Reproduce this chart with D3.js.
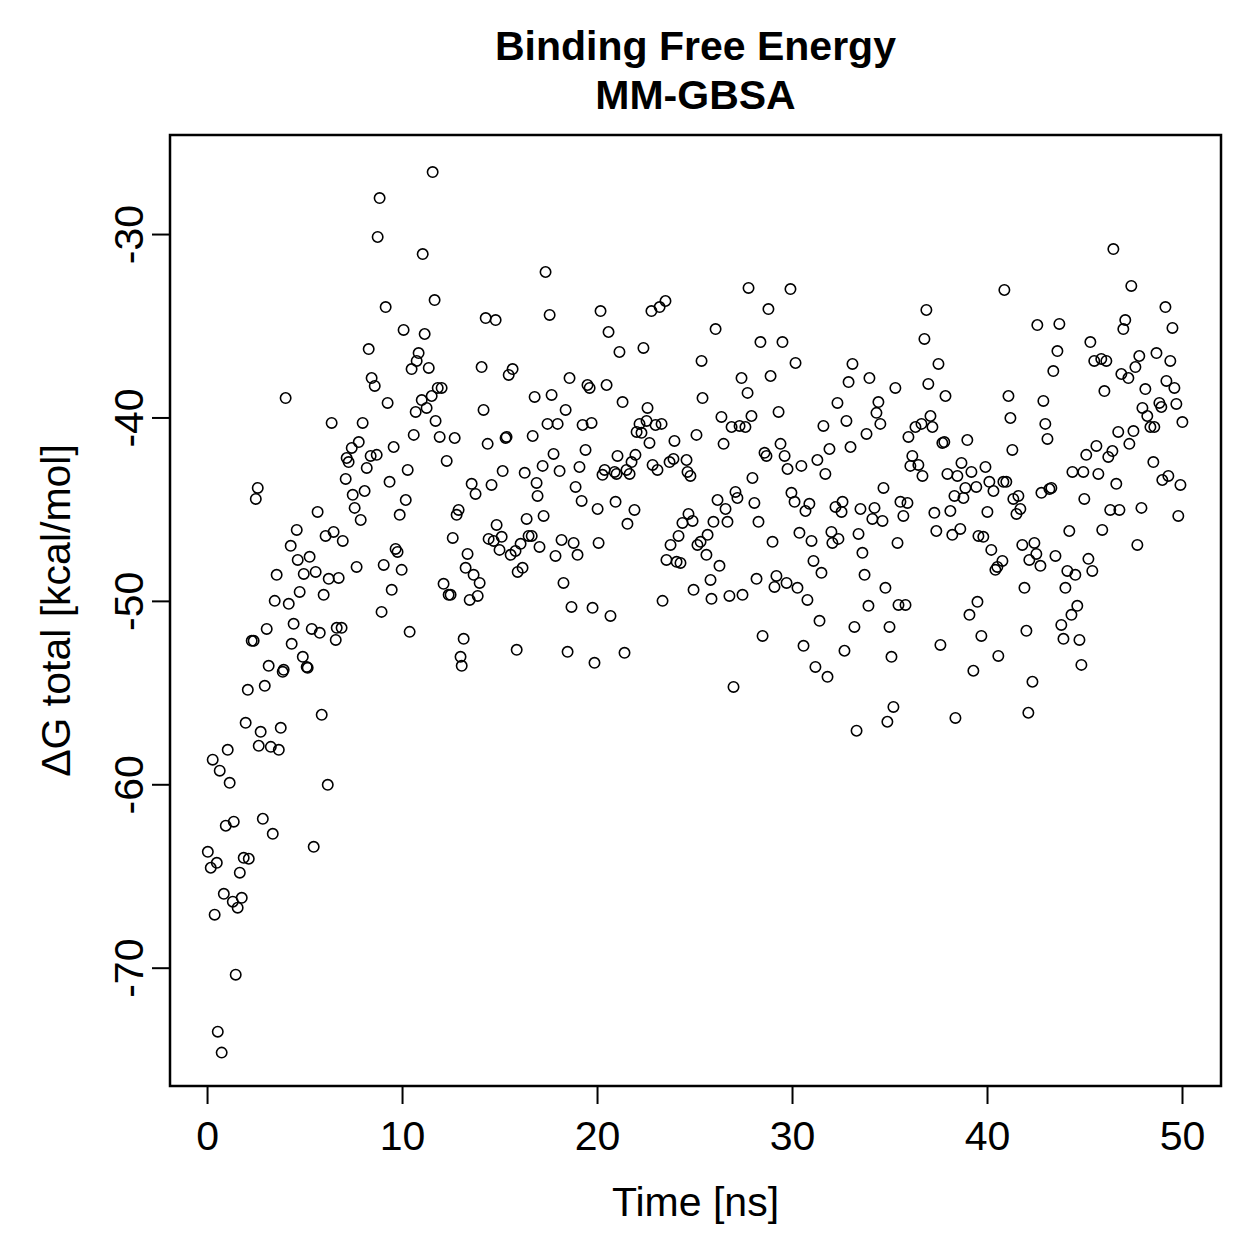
<!DOCTYPE html>
<html>
<head>
<meta charset="utf-8">
<script src="https://cdn.jsdelivr.net/npm/d3@7"></script>
<style>
  body { margin: 0; background: #fff; }
  svg text { font-family: "Liberation Sans", Arial, Helvetica, sans-serif; fill: #000; }
</style>
</head>
<body>
<svg class="scatter"></svg>
<script>
// time of each snapshot [ns]
timeNs = [
  0.04, 0.19, 0.29, 0.39, 0.50, 0.55, 0.65, 0.75, 0.86, 0.96,
  1.06, 1.16, 1.32, 1.37, 1.47, 1.57, 1.68, 1.78, 1.88, 1.98,
  2.09, 2.14, 2.29, 2.39, 2.50, 2.60, 2.65, 2.75, 2.86, 2.96,
  3.06, 3.16, 3.27, 3.37, 3.47, 3.57, 3.68, 3.78, 3.88, 3.93,
  4.03, 4.19, 4.29, 4.34, 4.44, 4.60, 4.65, 4.75, 4.91, 4.96,
  5.11, 5.16, 5.26, 5.37, 5.47, 5.57, 5.67, 5.78, 5.88, 5.98,
  6.08, 6.19, 6.24, 6.39, 6.49, 6.60, 6.65, 6.75, 6.90, 6.96,
  7.11, 7.16, 7.26, 7.42, 7.47, 7.57, 7.67, 7.78, 7.88, 7.98,
  8.08, 8.19, 8.29, 8.39, 8.44, 8.60, 8.70, 8.75, 8.85, 8.95, 9.06,
  9.16, 9.26, 9.36, 9.47, 9.57, 9.67, 9.77, 9.88, 9.98, 10.08,
  10.19, 10.29, 10.39, 10.49, 10.60, 10.70, 10.75, 10.85, 11.01, 11.06,
  11.16, 11.26, 11.37, 11.52, 11.57, 11.67, 11.72, 11.83, 11.93, 12.03,
  12.13, 12.29, 12.39, 12.49, 12.60, 12.70, 12.80, 12.90, 13.00, 13.06,
  13.16, 13.26, 13.36, 13.47, 13.57, 13.67, 13.77, 13.88, 13.98, 14.08,
  14.18, 14.29, 14.39, 14.44, 14.59, 14.70, 14.80, 14.85, 15.00, 15.11,
  15.16, 15.31, 15.36, 15.47, 15.57, 15.67, 15.82, 15.88, 15.93, 16.08,
  16.18, 16.29, 16.39, 16.49, 16.65, 16.70, 16.80, 16.90, 16.95, 17.05,
  17.21, 17.26, 17.36, 17.46, 17.57, 17.67, 17.77, 17.87, 17.98, 18.08,
  18.18, 18.28, 18.39, 18.49, 18.59, 18.69, 18.80, 18.90, 19.00, 19.10,
  19.21, 19.26, 19.41, 19.51, 19.62, 19.72, 19.77, 19.87, 20.03, 20.08,
  20.18, 20.28, 20.39, 20.49, 20.59, 20.69, 20.90, 20.95, 21.00, 21.05,
  21.15, 21.31, 21.41, 21.51, 21.56, 21.67, 21.77, 21.92, 21.97, 22.03,
  22.18, 22.28, 22.38, 22.54, 22.59, 22.69, 22.79, 22.85, 23.00, 23.10,
  23.21, 23.31, 23.36, 23.51, 23.56, 23.72, 23.77, 23.92, 23.97, 24.08,
  24.18, 24.28, 24.38, 24.59, 24.64, 24.69, 24.79, 24.90, 24.95, 25.10,
  25.15, 25.31, 25.36, 25.41, 25.61, 25.67, 25.82, 25.87, 25.97, 26.08,
  26.18, 26.28, 26.38, 26.49, 26.59, 26.69, 26.79, 26.90, 27.00, 27.10,
  27.20, 27.31, 27.41, 27.46, 27.61, 27.72, 27.77, 27.92, 27.97, 28.07,
  28.18, 28.28, 28.38, 28.49, 28.59, 28.69, 28.79, 28.90, 29.00, 29.10,
  29.20, 29.31, 29.41, 29.51, 29.62, 29.72, 29.77, 29.92, 29.97, 30.13,
  30.18, 30.28, 30.38, 30.48, 30.59, 30.69, 30.79, 30.89, 31.00, 31.10,
  31.20, 31.30, 31.41, 31.51, 31.61, 31.71, 31.82, 31.92, 32.02, 32.07,
  32.23, 32.33, 32.38, 32.54, 32.59, 32.69, 32.79, 32.90, 33.00, 33.10,
  33.20, 33.31, 33.41, 33.51, 33.61, 33.72, 33.82, 33.92, 33.97, 34.12,
  34.23, 34.33, 34.43, 34.53, 34.64, 34.69, 34.79, 34.89, 35.00, 35.10,
  35.20, 35.30, 35.41, 35.46, 35.56, 35.71, 35.82, 35.92, 35.97, 36.07,
  36.17, 36.33, 36.48, 36.64, 36.69, 36.79, 36.89, 36.99, 37.10, 37.20,
  37.30, 37.40, 37.51, 37.61, 37.71, 37.81, 37.87, 37.97, 38.12, 38.22,
  38.33, 38.38, 38.48, 38.63, 38.69, 38.79, 38.89, 38.99, 39.10, 39.20,
  39.30, 39.45, 39.51, 39.56, 39.71, 39.81, 39.92, 40.02, 40.12, 40.22,
  40.33, 40.43, 40.53, 40.58, 40.79, 40.84, 40.89, 40.99, 41.10, 41.20,
  41.30, 41.35, 41.51, 41.61, 41.71, 41.81, 41.92, 42.02, 42.12, 42.17,
  42.33, 42.43, 42.53, 42.58, 42.74, 42.79, 42.89, 42.99, 43.10, 43.20,
  43.30, 43.40, 43.51, 43.61, 43.71, 43.81, 43.92, 44.02, 44.12, 44.22,
  44.33, 44.38, 44.53, 44.63, 44.74, 44.84, 44.94, 44.99, 45.09, 45.20,
  45.30, 45.40, 45.50, 45.61, 45.71, 45.86, 45.91, 46.02, 46.12, 46.22,
  46.32, 46.43, 46.48, 46.63, 46.73, 46.79, 46.89, 46.99, 47.09, 47.25,
  47.30, 47.40, 47.51, 47.61, 47.71, 47.81, 47.92, 47.97, 48.12, 48.22,
  48.38, 48.53, 48.58, 48.69, 48.84, 48.94, 48.99, 49.15, 49.20, 49.30,
  49.40, 49.51, 49.61, 49.71, 49.81, 49.92, 50.02
];

// delta G total [kcal/mol], same order as timeNs
deltaG = [
  -63.68, -64.55, -58.66, -67.11, -64.28, -73.49, -59.26, -74.63, -65.97, -62.26,
  -58.12, -59.92, -66.40, -62.04, -70.38, -66.73, -64.82, -66.19, -64.01, -56.65,
  -54.85, -64.06, -52.18, -52.18, -44.44, -43.84, -57.90, -57.14, -61.88, -54.63,
  -51.53, -53.54, -57.96, -62.70, -50.00, -48.58, -58.12, -56.92, -53.87, -53.76,
  -38.94, -50.16, -47.00, -52.34, -51.25, -46.13, -47.77, -49.51, -53.05, -48.53,
  -53.60, -53.65, -47.60, -51.53, -63.41, -48.42, -45.15, -51.74, -56.21, -49.67,
  -46.46, -60.03, -48.80, -40.30, -46.24, -52.13, -51.47, -48.75, -51.47, -46.73,
  -43.35, -42.21, -42.43, -41.66, -44.22, -44.93, -48.15, -41.34, -45.59, -40.30,
  -44.01, -42.75, -36.27, -42.10, -37.85, -38.28, -42.04, -30.16, -28.04, -50.60, -48.04,
  -33.98, -39.21, -43.51, -49.40, -41.61, -47.17, -47.33, -45.31, -48.31, -35.23,
  -44.50, -42.86, -51.69, -37.36, -40.95, -39.70, -36.92, -36.49, -39.05, -31.09,
  -35.45, -39.48, -37.30, -38.83, -26.62, -33.60, -40.19, -38.39, -41.06, -38.39,
  -49.07, -42.37, -49.67, -49.67, -46.57, -41.12, -45.31, -45.04, -53.05, -53.54,
  -52.07, -48.20, -47.44, -49.95, -43.62, -48.58, -44.17, -49.73, -49.02, -37.25,
  -39.59, -34.58, -41.44, -46.62, -43.68, -46.73, -34.69, -45.86, -47.22, -46.51,
  -42.92, -41.12, -41.06, -37.68, -47.49, -37.36, -47.28, -52.67, -48.42, -46.89,
  -48.20, -43.02, -45.53, -46.46, -46.46, -41.01, -38.88, -43.57, -44.28, -47.06,
  -42.64, -45.37, -32.07, -40.35, -34.41, -38.77, -41.99, -47.55, -40.35, -42.92,
  -46.68, -49.02, -39.59, -52.78, -37.85, -50.33, -46.84, -43.79, -47.49, -42.70,
  -44.55, -40.41, -41.77, -38.23, -38.39, -40.30, -50.38, -53.38, -44.99, -46.84,
  -34.20, -43.13, -42.86, -38.23, -35.34, -50.82, -42.97, -44.60, -43.08, -42.10,
  -36.43, -39.16, -52.83, -42.86, -45.80, -43.08, -42.43, -45.04, -42.04, -40.79,
  -40.35, -40.84, -36.21, -40.19, -39.48, -41.39, -34.20, -42.59, -40.41, -42.86,
  -33.98, -40.35, -50.00, -33.65, -47.77, -42.43, -46.95, -42.26, -41.28, -47.87,
  -46.46, -47.93, -45.75, -42.32, -42.97, -45.26, -43.19, -45.64, -49.40, -40.95,
  -46.95, -46.78, -36.92, -38.94, -47.49, -46.40, -48.86, -49.89, -45.69, -35.18,
  -44.50, -48.09, -39.97, -41.44, -44.99, -45.69, -49.73, -40.52, -54.69, -44.06,
  -44.39, -40.46, -37.85, -49.67, -40.52, -38.66, -32.94, -39.92, -43.30, -44.66,
  -48.80, -45.69, -35.89, -51.91, -41.93, -42.10, -34.09, -37.74, -46.78, -49.24,
  -48.64, -39.70, -41.44, -35.89, -42.10, -49.02, -42.81, -33.00, -44.11, -44.60,
  -37.03, -49.29, -46.29, -42.64, -52.45, -45.10, -49.95, -44.71, -46.73, -47.82,
  -53.60, -42.32, -51.09, -48.47, -40.46, -43.08, -54.14, -41.72, -46.24, -46.84,
  -44.88, -39.21, -46.62, -45.15, -44.60, -52.72, -40.19, -38.07, -41.61, -37.08,
  -51.42, -57.08, -46.35, -44.99, -47.38, -48.58, -40.90, -50.27, -37.85, -45.53,
  -44.93, -39.75, -39.16, -40.35, -45.64, -43.84, -49.29, -56.59, -51.42, -53.05,
  -55.78, -38.39, -46.84, -50.22, -44.60, -45.37, -50.22, -44.66, -41.06, -42.64,
  -42.10, -40.52, -42.59, -40.35, -43.19, -35.72, -34.14, -38.17, -39.92, -40.52,
  -45.20, -46.19, -37.08, -52.40, -41.39, -41.34, -38.83, -43.08, -45.10, -46.40,
  -44.28, -56.38, -43.19, -46.08, -42.48, -44.39, -43.84, -41.23, -50.76, -42.97,
  -53.81, -43.79, -50.05, -46.46, -51.91, -46.51, -42.70, -45.15, -43.51, -47.22,
  -44.01, -48.31, -48.15, -53.00, -47.82, -43.51, -33.05, -43.51, -38.83, -40.03,
  -41.77, -44.44, -45.26, -44.28, -44.99, -46.95, -49.29, -51.63, -56.10, -47.77,
  -54.41, -46.84, -47.44, -34.96, -48.09, -44.11, -39.10, -40.35, -41.17, -43.90,
  -43.84, -37.47, -47.55, -36.38, -34.90, -51.31, -52.07, -49.29, -48.37, -46.19,
  -50.76, -42.97, -48.58, -50.27, -52.13, -53.49, -42.97, -44.44, -42.04, -47.71,
  -35.89, -48.37, -36.92, -41.55, -43.08, -36.81, -46.13, -38.56, -36.92, -42.15,
  -45.04, -41.83, -30.82, -43.62, -40.79, -45.04, -37.63, -35.18, -34.69, -37.85,
  -41.44, -32.83, -40.74, -37.25, -46.95, -36.65, -44.93, -39.48, -38.45, -39.92,
  -40.52, -42.43, -40.52, -36.49, -39.21, -39.43, -43.41, -33.98, -38.01, -43.19,
  -36.92, -35.12, -38.39, -39.26, -45.37, -43.68, -40.25
];

xTicks = [0, 10, 20, 30, 40, 50];
yTicks = [-70, -60, -50, -40, -30];

TITLE_LINES = ["Binding Free Energy", "MM-GBSA"];
X_LABEL = "Time [ns]";
Y_LABEL = "\u0394G total [kcal/mol]";

SVG_WIDTH = 1259;
SVG_HEIGHT = 1259;
PLOT = {left: 170, right: 1221, top: 135, bottom: 1086};

X_DOMAIN = [-1.9, 52.0];
Y_DOMAIN = [-76.45, -24.6];

FONT_SIZE = 41;
TICK_LENGTH = 18;


function makeScatter() {
    svg = d3.select(".scatter")
        .attr("width", SVG_WIDTH)
        .attr("height", SVG_HEIGHT);
    svg.append("rect")
        .attr("width", SVG_WIDTH)
        .attr("height", SVG_HEIGHT)
        .attr("fill", "#fff");

    xScale = d3.scaleLinear().domain(X_DOMAIN).range([PLOT.left, PLOT.right]);
    yScale = d3.scaleLinear().domain(Y_DOMAIN).range([PLOT.bottom, PLOT.top]);

    addPoints(svg, xScale, yScale);
    addXAxis(svg, xScale);
    addYAxis(svg, yScale);
    addBox(svg);
    addLabels(svg);
}

function addPoints(svg, xScale, yScale) {
    svg.append("g")
        .selectAll("circle")
        .data(d3.range(timeNs.length))
        .enter().append("circle")
        .attr("cx", function(i) { return xScale(timeNs[i]); })
        .attr("cy", function(i) { return yScale(deltaG[i]); })
        .attr("r", 5.2)
        .attr("fill", "none")
        .attr("stroke", "#000")
        .attr("stroke-width", 1.6);
}

function addXAxis(svg, xScale) {
    g = svg.append("g")
        .attr("transform", "translate(0," + PLOT.bottom + ")")
        .call(
            d3.axisBottom(xScale)
                .tickValues(xTicks)
                .tickSize(TICK_LENGTH)
                .tickPadding(17)
                .tickFormat(function(d) { return String(d); })
        );
    g.select(".domain").remove();
    g.selectAll("line").attr("stroke", "#000").attr("stroke-width", 2);
    g.selectAll("text")
        .attr("font-size", FONT_SIZE)
        .attr("font-family", "Liberation Sans, Arial, sans-serif");
}

function addYAxis(svg, yScale) {
    g = svg.append("g")
        .attr("transform", "translate(" + PLOT.left + ",0)")
        .call(
            d3.axisLeft(yScale)
                .tickValues(yTicks)
                .tickSize(TICK_LENGTH)
                .tickFormat(function(d) { return String(d); })
        );
    g.select(".domain").remove();
    g.selectAll("line").attr("stroke", "#000").attr("stroke-width", 2);
    // R draws y tick labels parallel to the axis
    g.selectAll("text")
        .attr("x", null)
        .attr("dy", null)
        .attr("text-anchor", "middle")
        .attr("transform", "translate(-27,0) rotate(-90)")
        .attr("font-size", FONT_SIZE)
        .attr("font-family", "Liberation Sans, Arial, sans-serif");
}

function addBox(svg) {
    svg.append("rect")
        .attr("x", PLOT.left)
        .attr("y", PLOT.top)
        .attr("width", PLOT.right - PLOT.left)
        .attr("height", PLOT.bottom - PLOT.top)
        .attr("fill", "none")
        .attr("stroke", "#000")
        .attr("stroke-width", 2.5);
}

function addLabels(svg) {
    midX = (PLOT.left + PLOT.right) / 2;
    midY = (PLOT.top + PLOT.bottom) / 2;

    svg.append("g").selectAll("text")
        .data(TITLE_LINES)
        .enter().append("text")
        .attr("x", midX)
        .attr("y", function(d, i) { return 60 + i * 49; })
        .attr("text-anchor", "middle")
        .attr("font-size", FONT_SIZE)
        .attr("font-weight", "bold")
        .text(function(d) { return d; });

    svg.append("text")
        .attr("x", midX)
        .attr("y", 1216)
        .attr("text-anchor", "middle")
        .attr("font-size", FONT_SIZE)
        .text(X_LABEL);

    svg.append("text")
        .attr("transform", "translate(70," + midY + ") rotate(-90)")
        .attr("text-anchor", "middle")
        .attr("font-size", FONT_SIZE)
        .text(Y_LABEL);
}

makeScatter();
</script>
</body>
</html>
